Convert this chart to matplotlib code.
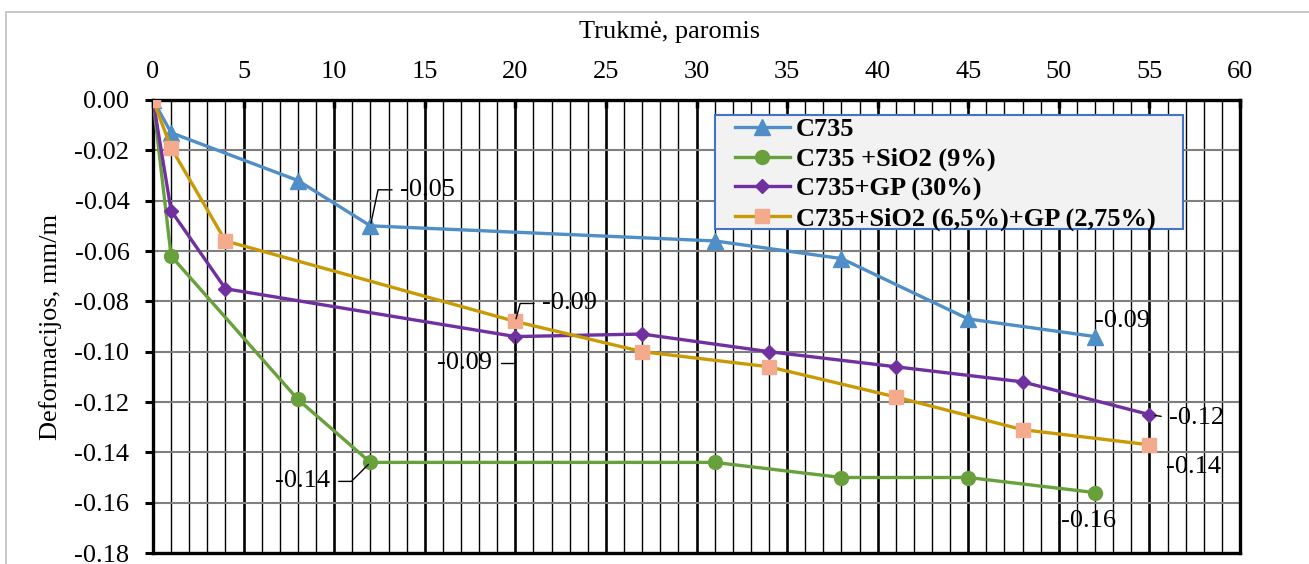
import matplotlib
matplotlib.use("Agg")
import matplotlib.pyplot as plt
from matplotlib.patches import Rectangle
from matplotlib.ticker import MultipleLocator, FuncFormatter

plt.rcParams['font.family'] = ['Liberation Serif', 'DejaVu Serif']
plt.rcParams['font.size'] = 19

# Measurement days and deformations (mm/m) for each mix
days_a = [0, 1, 8, 12, 31, 38, 45, 52]
days_b = [0, 1, 4, 20, 27, 34, 41, 48, 55]

c735 = [0.0, -0.013, -0.032, -0.050, -0.056, -0.063, -0.087, -0.094]
c735_sio2 = [0.0, -0.062, -0.119, -0.144, -0.144, -0.150, -0.150, -0.156]
c735_gp = [0.0, -0.044, -0.075, -0.094, -0.093, -0.100, -0.106, -0.112, -0.125]
c735_sio2_gp = [0.0, -0.019, -0.056, -0.088, -0.100, -0.106, -0.118, -0.131, -0.137]

names = ["C735", "C735 +SiO2 (9%)", "C735+GP (30%)", "C735+SiO2 (6,5%)+GP (2,75%)"]

W, H = 1309, 564
AX_L, AX_R, AX_T, AX_B = 153, 1240, 100, 553
AW, AH = AX_R - AX_L, AX_B - AX_T
fig = plt.figure(figsize=(W / 100, H / 100), dpi=100)
ax = fig.add_axes([AX_L / W, 1 - AX_B / H, AW / W, AH / H])

# outer frame of the chart area
fig.patches.append(Rectangle((6 / W, -0.2), 2.0, 1.2 - 12 / H, transform=fig.transFigure,
                             fill=False, edgecolor='#BFBFBF', linewidth=1.2, zorder=0))

ax.set_xlim(0, 60)
ax.set_ylim(-0.18, 0.0)
ax.xaxis.set_major_locator(MultipleLocator(5))
ax.xaxis.set_minor_locator(MultipleLocator(1))
ax.yaxis.set_major_locator(MultipleLocator(0.02))
ax.yaxis.set_major_formatter(FuncFormatter(lambda v, p: f"{v:.2f}" if abs(v) > 1e-9 else "0.00"))

ax.xaxis.tick_top()
ax.xaxis.set_label_position('top')
ax.tick_params(axis='x', which='major', direction='in', length=6, width=2.5, pad=12, labelsize=19)
ax.tick_params(axis='x', which='minor', length=0)
ax.tick_params(axis='y', which='major', direction='out', length=6, width=2.2, pad=11, labelsize=19)

ax.grid(True, axis='x', which='minor', color='black', linewidth=1.0, zorder=0)
ax.grid(True, axis='x', which='major', color='black', linewidth=1.9, zorder=0)
ax.grid(True, axis='y', which='major', color='#7F7F7F', linewidth=1.5, zorder=0)
ax.set_axisbelow(True)

for s in ax.spines.values():
    s.set_color('black')
    s.set_linewidth(2.4)

ax.set_xlabel("Trukmė, paromis", fontsize=19, labelpad=6)
ax.xaxis.set_label_coords((670 - AX_L) / AW, 1 + (AX_T - 38) / AH)
ax.set_ylabel("Deformacijos, mm/m", fontsize=19, labelpad=9)

lw = 2.4
ax.plot(days_a, c735, color='#4F8EC6', lw=lw, marker='^', ms=11, mec='#4F8EC6', label=names[0], zorder=3)
ax.plot(days_a, c735_sio2, color='#68A03C', lw=lw, marker='o', ms=10, mec='#68A03C', label=names[1], zorder=3)
ax.plot(days_b, c735_gp, color='#7030A0', lw=lw, marker='D', ms=7.5, mec='#7030A0', label=names[2], zorder=3)
ax.plot(days_b, c735_sio2_gp, color='#C99A06', lw=lw, marker='s', ms=10.5, mfc='#F4AA8C', mec='#F4AA8C',
        label=names[3], zorder=3)

# legend box drawn as its own patch, entries placed inside it
ax.add_patch(Rectangle(((715 - AX_L) / AW, 1 - (229 - AX_T) / AH), (1183 - 715) / AW, (229 - 115) / AH,
                       transform=ax.transAxes, facecolor='#F2F2F2', edgecolor='#4472C4',
                       linewidth=1.5, zorder=4.5))
leg = ax.legend(loc='upper left', bbox_to_anchor=((735 - AX_L) / AW, 1 - (118 - AX_T) / AH),
                borderaxespad=0, borderpad=0, frameon=False, prop={'weight': 'bold', 'size': 19},
                handlelength=2.08, handletextpad=0.23, labelspacing=0.22)
leg.set_zorder(5)

px = 0.72  # pixels -> points


def tag(x, y, dx, dy, ha, angles=None, straight=False):
    kw = dict(textcoords='offset points', ha=ha, va='center', fontsize=19, zorder=6)
    if angles is not None:
        relx = 0.0 if ha == 'left' else 1.0
        kw['arrowprops'] = dict(arrowstyle='-', color='black', lw=1.0, shrinkA=4, shrinkB=2,
                                relpos=(relx, 0.5),
                                connectionstyle=f"angle,angleA={angles[0]},angleB={angles[1]},rad=0")
    elif straight:
        kw['arrowprops'] = dict(arrowstyle='-', color='black', lw=1.0, shrinkA=4, shrinkB=4,
                                relpos=(0.0, 0.5))
    ax.annotate(f"{y:.2f}", xy=(x, y), xytext=(dx * px, -dy * px), **kw)


tag(days_a[3], c735[3], 30, -36, 'left', angles=(0, 78))
tag(days_a[3], c735_sio2[3], -40, 19, 'right', angles=(0, 45))
tag(days_b[3], c735_sio2_gp[3], 27, -18, 'left', angles=(0, 75))
tag(days_b[3], c735_gp[3], -23, 26, 'right', angles=(0, 90))
tag(days_a[-1], c735[-1], 0, -16, 'left')
tag(days_a[-1], c735_sio2[-1], -7, 28, 'center')
tag(days_b[-1], c735_gp[-1], 20, 3, 'left', straight=True)
tag(days_b[-1], c735_sio2_gp[-1], 17, 22, 'left')

fig.savefig("out.png", dpi=100)
